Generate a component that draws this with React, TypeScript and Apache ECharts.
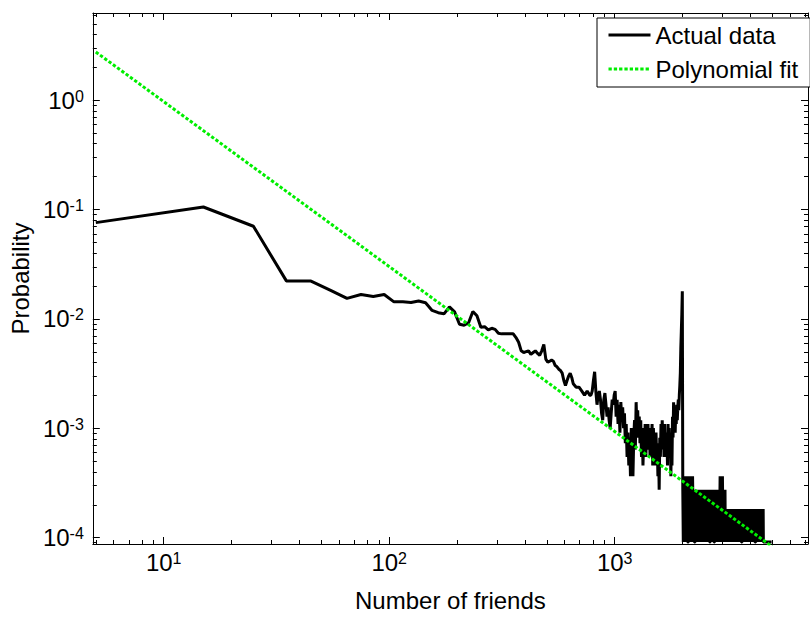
import React, { useEffect, useRef } from "react";
import * as echarts from "echarts";

// Histogram of users per 10-friend bin; probability = users in bin / all users
const USERS = 10950;
const BIN_WIDTH = 10;

const start5 = 5;
const counts5to195 = [832, 1156, 771, 244, 243, 200, 169, 183, 176, 183, 157, 157, 155, 160, 154, 131, 125, 122, 141, 127];

const start205 = 205;
const counts205to495 = [98, 96, 101, 128, 117, 92, 93, 87, 90, 88, 81, 80, 80, 80, 80, 80, 74, 67, 56, 54, 55, 56, 52, 54, 56, 53, 51, 56, 64, 47];

const start505 = 505;
const counts505to995 = [
  44, 45, 46, 45, 41, 40, 38, 37, 35, 30,
  27, 30, 33, 35, 32, 28, 27, 26, 26, 26,
  25, 24, 23, 22, 23, 24, 23, 22, 22, 24,
  30, 36, 24, 18, 22, 24, 20, 15, 13, 20,
  23, 18, 14, 17, 13, 11, 15, 20, 18, 22,
];

const start1005 = 1005;
const counts1005to1995 = [
  24, 14, 20, 12, 18, 10, 19, 13, 17, 11,
  15, 8, 12, 6, 10, 5, 9, 4, 11, 7,
  4, 9, 13, 7, 19, 11, 16, 9, 14, 8,
  13, 6, 11, 5, 9, 7, 12, 6, 10, 8,
  12, 7, 11, 6, 10, 8, 12, 5, 11, 7,
  9, 5, 10, 6, 8, 4, 7, 3, 9, 6,
  12, 7, 13, 8, 11, 6, 12, 7, 10, 6,
  9, 5, 12, 7, 11, 6, 10, 4, 9, 5,
  14, 9, 19, 11, 17, 10, 16, 12, 18, 13,
  17, 20, 16, 22, 27, 35, 60, 85, 120, 196,
];

const start2005 = 2005;
const counts2005to4995 = [
  3, 1, 4, 1, 2, 4, 1, 3, 1, 4,
  1, 1, 1, 4, 1, 3, 2, 4, 1, 3,
  1, 4, 2, 1, 3, 1, 1, 1, 3, 1,
  3, 1, 2, 3, 1, 3, 1, 2, 3, 1,
  3, 1, 3, 2, 1, 3, 1, 3, 1, 2,
  3, 1, 2, 3, 1, 3, 1, 3, 2, 1,
  3, 1, 3, 1, 1, 1, 2, 3, 1, 3,
  1, 3, 2, 1, 3, 1, 1, 1, 3, 1,
  1, 1, 3, 1, 3, 2, 1, 3, 1, 2,
  3, 1, 2, 4, 1, 4, 2, 1, 4, 1,
  4, 2, 1, 3, 1, 3, 1, 2, 3, 1,
  2, 1, 2, 1, 2, 1, 1, 2, 1, 2,
  1, 2, 1, 2, 2, 1, 2, 1, 2, 1,
  2, 1, 2, 1, 2, 1, 2, 2, 1, 2,
  1, 2, 1, 2, 1, 2, 1, 2, 1, 2,
  2, 1, 2, 1, 2, 2, 1, 2, 1, 2,
  1, 2, 1, 2, 1, 1, 1, 1, 2, 1,
  1, 1, 2, 1, 2, 1, 2, 1, 2, 1,
  2, 1, 2, 2, 1, 2, 1, 2, 1, 2,
  1, 2, 1, 2, 1, 2, 2, 1, 2, 1,
  2, 1, 2, 1, 2, 1, 2, 1, 2, 2,
  1, 2, 1, 2, 1, 2, 1, 2, 1, 1,
  1, 1, 1, 1, 2, 1, 2, 1, 2, 1,
  2, 1, 2, 1, 2, 1, 2, 2, 1, 2,
  1, 2, 1, 2, 1, 2, 1, 2, 1, 2,
  1, 2, 1, 2, 1, 2, 1, 1, 1, 1,
  1, 1, 1, 1, 1, 1, 1, 1, 1, 1,
  1, 1, 1, 1, 1, 1, 1, 1, 1, 1,
  1, 1, 1, 1, 1, 1, 1, 1, 1, 1,
  1, 1, 1, 1, 1, 1, 1, 1, 1, 1,
];

// Power-law (straight line in log-log) fit, end points
const fitFriends = [5, 4995];
const fitProbability = [2.76, 8.28e-5];

// Axes
const xMin = 4.85;
const xMax = 7200;
const yMin = 8.76e-5;
const yMax = 6.27;
const xMajorTicks = [10, 100, 1000];
const xMinorTicks = [5, 6, 7, 8, 9, 20, 30, 40, 50, 60, 70, 80, 90, 200, 300, 400, 500, 600, 700, 800, 900, 2000, 3000, 4000, 5000, 6000, 7000];
const yMajorTicks = [1e-4, 1e-3, 1e-2, 1e-1, 1];
const yMinorTicks = [
  9e-5,
  2e-4, 3e-4, 4e-4, 5e-4, 6e-4, 7e-4, 8e-4, 9e-4,
  2e-3, 3e-3, 4e-3, 5e-3, 6e-3, 7e-3, 8e-3, 9e-3,
  2e-2, 3e-2, 4e-2, 5e-2, 6e-2, 7e-2, 8e-2, 9e-2,
  0.2, 0.3, 0.4, 0.5, 0.6, 0.7, 0.8, 0.9,
  2, 3, 4, 5, 6,
];

const FONT = '"Liberation Sans", Arial, Helvetica, sans-serif';

const segments: { start: number; counts: number[] }[] = [
  { start: start5, counts: counts5to195 },
  { start: start205, counts: counts205to495 },
  { start: start505, counts: counts505to995 },
  { start: start1005, counts: counts1005to1995 },
  { start: start2005, counts: counts2005to4995 },
];

const actualData = segments.flatMap((s) =>
  s.counts.map((c, i) => [s.start + i * BIN_WIDTH, c / USERS])
);
const fitData = fitFriends.map((f, i) => [f, fitProbability[i]]);

const powerLabel = (v: number) => `{b|10}{s|${Math.round(Math.log10(v))}}`;
const labelRich = {
  b: { fontSize: 24, fontFamily: FONT, color: "#000", lineHeight: 24, verticalAlign: "bottom" },
  s: { fontSize: 16, fontFamily: FONT, color: "#000", lineHeight: 16, verticalAlign: "top", padding: [0, 0, 18, 0] },
};

const lineStyleAxis = { color: "#000", width: 1 };

function xAxisDef(position: "top" | "bottom", major: boolean, showLine: boolean, withLabels: boolean) {
  return {
    type: "log",
    logBase: 10,
    position,
    min: xMin,
    max: xMax,
    splitLine: { show: false },
    axisLine: { show: showLine, onZero: false, lineStyle: lineStyleAxis },
    axisTick: {
      show: true,
      inside: true,
      length: major ? 7 : 4,
      lineStyle: lineStyleAxis,
      customValues: major ? xMajorTicks : xMinorTicks,
    },
    axisLabel: withLabels
      ? { show: true, margin: 6, customValues: xMajorTicks, formatter: powerLabel, rich: labelRich }
      : { show: false },
    ...(withLabels
      ? {
          name: "Number of friends",
          nameLocation: "middle",
          nameGap: 43,
          nameTextStyle: { fontSize: 24, fontFamily: FONT, color: "#000" },
        }
      : {}),
  };
}

function yAxisDef(position: "left" | "right", major: boolean, showLine: boolean, withLabels: boolean) {
  return {
    type: "log",
    logBase: 10,
    position,
    min: yMin,
    max: yMax,
    splitLine: { show: false },
    axisLine: { show: showLine, onZero: false, lineStyle: lineStyleAxis },
    axisTick: {
      show: true,
      inside: true,
      length: major ? 7 : 4,
      lineStyle: lineStyleAxis,
      customValues: major ? yMajorTicks : yMinorTicks,
    },
    axisLabel: withLabels
      ? { show: true, margin: 9, customValues: yMajorTicks, formatter: powerLabel, rich: labelRich }
      : { show: false },
    ...(withLabels
      ? {
          name: "Probability",
          nameLocation: "middle",
          nameGap: 54,
          nameTextStyle: { fontSize: 24, fontFamily: FONT, color: "#000" },
        }
      : {}),
  };
}

const option: any = {
  animation: false,
  backgroundColor: "#fff",
  textStyle: { fontFamily: FONT },
  grid: { left: 89.5, right: 2, top: 13, bottom: 75, containLabel: false },
  xAxis: [
    xAxisDef("bottom", true, true, true),
    xAxisDef("bottom", false, false, false),
    xAxisDef("top", true, true, false),
    xAxisDef("top", false, false, false),
  ],
  yAxis: [
    yAxisDef("left", true, true, true),
    yAxisDef("left", false, false, false),
    yAxisDef("right", true, true, false),
    yAxisDef("right", false, false, false),
  ],
  legend: {
    orient: "vertical",
    left: 597,
    top: 18,
    backgroundColor: "#fff",
    borderColor: "#000",
    borderWidth: 1,
    borderRadius: 0,
    padding: [5, 12, 6, 10],
    itemWidth: 42,
    itemHeight: 24,
    itemGap: 10,
    itemStyle: { opacity: 0 },
    lineStyle: { width: 3 },
    textStyle: { fontSize: 24, fontFamily: FONT, color: "#000" },
    data: ["Actual data", "Polynomial fit"],
  },
  series: [
    {
      name: "Actual data",
      type: "line",
      xAxisIndex: 0,
      yAxisIndex: 0,
      data: actualData,
      symbol: "none",
      showSymbol: false,
      clip: true,
      lineStyle: { color: "#000", width: 3 },
      itemStyle: { color: "#000" },
    },
    {
      name: "Polynomial fit",
      type: "line",
      xAxisIndex: 0,
      yAxisIndex: 0,
      data: fitData,
      symbol: "none",
      showSymbol: false,
      clip: true,
      lineStyle: { color: "#00ee00", width: 3, type: [3.3, 2] },
      itemStyle: { color: "#00ee00" },
    },
  ],
};

export default function App() {
  const ref = useRef<HTMLDivElement>(null);
  useEffect(() => {
    if (!ref.current) return;
    const chart = echarts.init(ref.current, undefined, { renderer: "svg" });
    chart.setOption(option);
    return () => {
      chart.dispose();
    };
  }, []);
  return (
    <div
      ref={ref}
      style={{ position: "fixed", left: 0, top: 0, width: 810, height: 619, background: "#fff" }}
    />
  );
}
